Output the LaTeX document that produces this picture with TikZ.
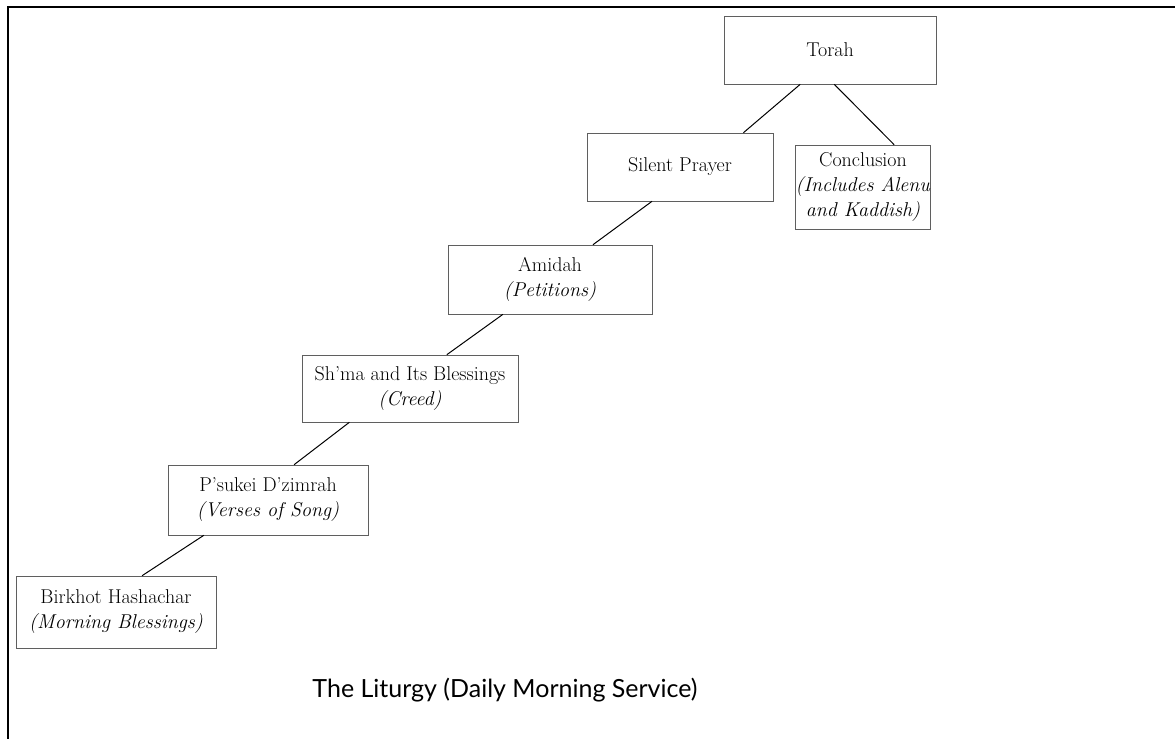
\documentclass[tikz,border=0pt]{standalone}
\usepackage{fontspec}
\newfontfamily\titlefont{Lato}
\usetikzlibrary{calc}
\definecolor{scangray}{RGB}{95,95,95}
\tikzset{
  stage/.style={draw=scangray, line width=0.6pt, align=center, inner sep=2pt,
                font=\fontsize{20}{25}\selectfont},
  link/.style={line width=1pt, draw=black},
}

\begin{document}
\begin{tikzpicture}[x=1pt, y=1pt]
  \useasboundingbox (0,0) rectangle (1175,-739);
  % frame of the scanned page
  \draw[line width=1.2pt] (1175,-7) -- (8,-7) -- (8,-739);

  \node[stage, minimum width=212pt, minimum height=68pt] (torah) at (830,-50) {Torah};
  \node[stage, minimum width=186pt, minimum height=68pt] (silent) at (680,-167) {Silent Prayer};
  \node[stage, minimum width=134pt, minimum height=84pt, inner sep=0pt] (concl) at (863,-187)
    {Conclusion\\\textit{(Includes Alenu}\\\textit{and Kaddish)}};
  \node[stage, minimum width=204pt, minimum height=69pt] (amidah) at (550,-279.5) {Amidah\\\textit{(Petitions)}};
  \node[stage, minimum width=216pt, minimum height=67pt] (shma) at (410,-388.5) {Sh’ma and Its Blessings\\\textit{(Creed)}};
  \node[stage, minimum width=200pt, minimum height=70pt] (psukei) at (268,-500) {P’sukei D’zimrah\\\textit{(Verses of Song)}};
  \node[stage, minimum width=200pt, minimum height=72pt] (birkhot) at (116,-612) {Birkhot Hashachar\\\textit{(Morning Blessings)}};

  \node[font=\titlefont\fontsize{25}{30}\selectfont] (title) at (505,-690) {The Liturgy (Daily Morning Service)};

  % connectors, bottom of one stage to top of the next
  \draw[link] ($(torah.south west)!0.36!(torah.south east)$) -- ($(silent.north west)!0.84!(silent.north east)$);
  \draw[link] ($(torah.south west)!0.52!(torah.south east)$) -- ($(concl.north west)!0.73!(concl.north east)$);
  \draw[link] ($(silent.south west)!0.35!(silent.south east)$) -- ($(amidah.north west)!0.71!(amidah.north east)$);
  \draw[link] ($(amidah.south west)!0.27!(amidah.south east)$) -- ($(shma.north west)!0.67!(shma.north east)$);
  \draw[link] ($(shma.south west)!0.22!(shma.south east)$) -- ($(psukei.north west)!0.63!(psukei.north east)$);
  \draw[link] ($(psukei.south west)!0.18!(psukei.south east)$) -- ($(birkhot.north west)!0.63!(birkhot.north east)$);
\end{tikzpicture}
\end{document}
